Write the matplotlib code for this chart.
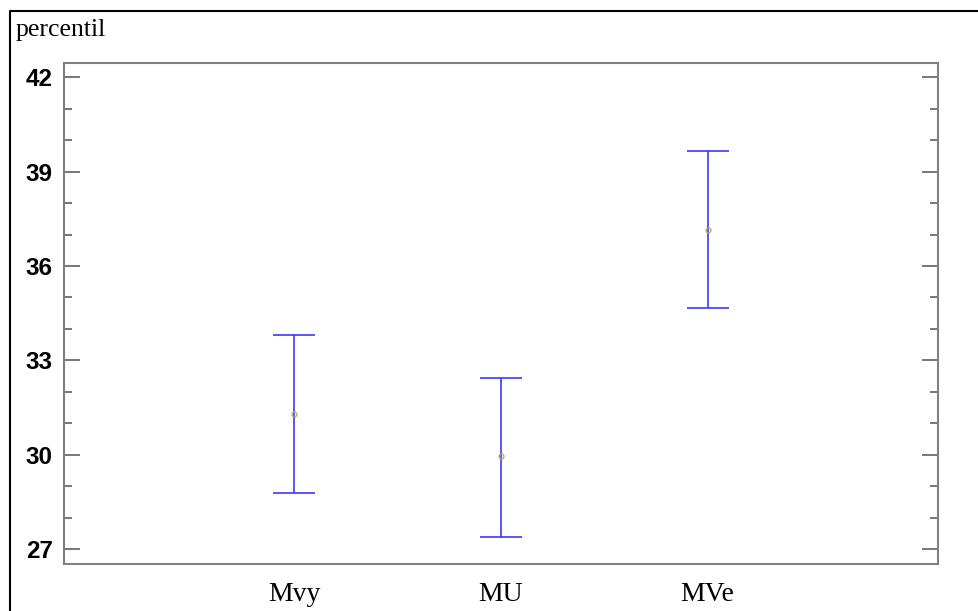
import matplotlib.pyplot as plt
from matplotlib.lines import Line2D
from matplotlib.ticker import MultipleLocator

# group means and interval bounds (percentil)
groups = ['Mvy', 'MU', 'MVe']
means = [31.3, 29.95, 37.15]
lower = [28.8, 27.4, 34.65]
upper = [33.8, 32.45, 39.65]
yticks = [27, 30, 33, 36, 39, 42]

W, H = 979, 611
fig = plt.figure(figsize=(W / 100, H / 100), dpi=100)
ax = fig.add_axes([64 / W, (H - 564) / H, 874 / W, 501 / H])

x = list(range(1, len(groups) + 1))
err_lo = [m - l for m, l in zip(means, lower)]
err_hi = [u - m for m, u in zip(means, upper)]
ax.errorbar(x, means, yerr=[err_lo, err_hi], fmt='none', ecolor='#3a3aff',
            elinewidth=1.2, capsize=15, capthick=1.2)
ax.plot(x, means, 'o', ms=3.5, mfc='none', mec='#a8a870', mew=0.9)

ax.set_xlim(1 - 1.116, 3 + 1.116)
ax.set_ylim(26.53, 42.45)
ax.set_yticks(yticks)
ax.yaxis.set_minor_locator(MultipleLocator(1))
ax.set_xticks(x)
ax.set_xticklabels(groups, fontfamily='Liberation Serif', fontsize=20)
ax.tick_params(axis='x', length=0, pad=13)
ax.tick_params(axis='y', which='major', direction='in', length=11.5, width=1.2,
               color='#606060', right=True, labelsize=17.5, pad=8)
ax.tick_params(axis='y', which='minor', direction='in', length=5.8, width=1.2,
               color='#606060', right=True)
for lab in ax.get_yticklabels():
    lab.set_fontfamily('Liberation Sans')
    lab.set_fontweight('bold')
for s in ax.spines.values():
    s.set_color('#808080')
    s.set_linewidth(1.5)

fig.text(16 / W, 1 - 30 / H, 'percentil', fontfamily='Liberation Serif',
         fontsize=18.5, va='center', ha='left')

# outer border
fig.add_artist(Line2D([10 / W, 10 / W, 1], [0, 1 - 11 / H, 1 - 11 / H],
                      transform=fig.transFigure, color='black', lw=1.5))

fig.savefig('out.png', dpi=100)
